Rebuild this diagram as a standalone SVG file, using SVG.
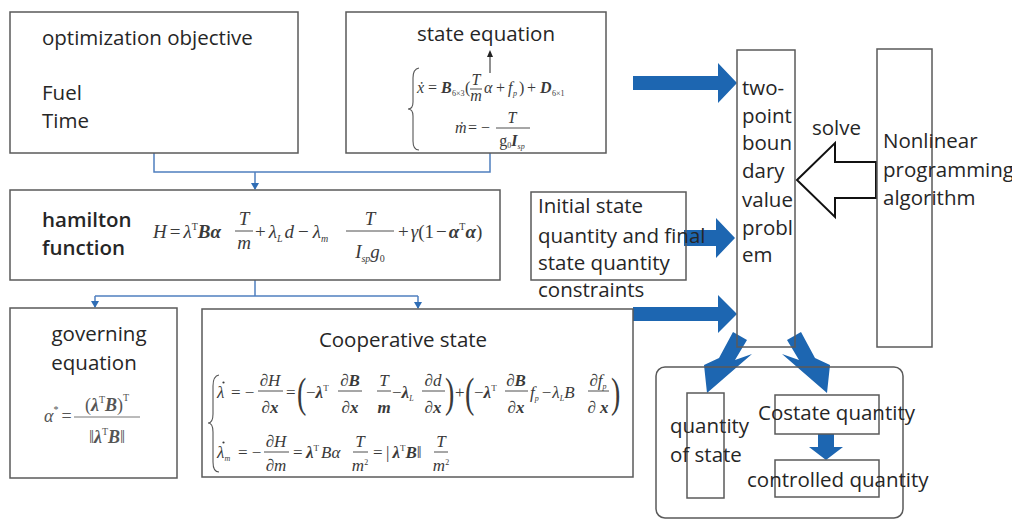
<svg xmlns="http://www.w3.org/2000/svg" width="1012" height="520" viewBox="0 0 1012 520">
<style>
.box{fill:none;stroke:#5a5a5a;stroke-width:1.5}
.t{font-family:"Open Sans","Noto Sans",sans-serif;font-size:20.5px;fill:#262626}
.m{font-family:"Liberation Serif","Times New Roman",serif;font-style:italic;font-size:17px;fill:#3a3a3a}
.u{font-style:normal}
.b{font-weight:bold}
.bar{stroke:#3a3a3a;stroke-width:0.9}
.conn{stroke:#4f7fbf;stroke-width:1.5;fill:none}
.big{fill:#1d66b1}
.brace{fill:none;stroke:#555;stroke-width:1.1}
.dot{fill:#3a3a3a}
</style>
<defs>
<marker id="dn" markerWidth="8" markerHeight="8" refX="4" refY="7" orient="0" markerUnits="userSpaceOnUse" viewBox="0 0 8 8">
<path d="M0,1 L8,1 L4,8 Z" fill="#2f6db5"/>
</marker>
</defs>

<g id="connectors">
<path class="conn" d="M154,153 V172 H490 V153"/>
<path class="conn" d="M255,172 V189" marker-end="url(#dn)"/>
<path class="conn" d="M255,280 V296"/>
<path class="conn" d="M95,296 H418"/>
<path class="conn" d="M95,296 V307" marker-end="url(#dn)"/>
<path class="conn" d="M418,296 V308" marker-end="url(#dn)"/>
<polygon class="big" points="633,76 718,76 718,63 737,83 718,103 718,90 633,90"/>
<polygon class="big" points="684,230 716,230 716,218 735,238 716,258 716,246 684,246"/>
<polygon class="big" points="633,307 718,307 718,295 737,314 718,333 718,321 633,321"/>
<polygon class="big" points="733,332 747,340 735,360 752,354 707,393 704,365 719,358"/>
<polygon class="big" points="801,332 787,340 799,360 782,354 827,393 830,365 815,358"/>
<polygon class="big" points="818,434 834,434 834,447 843,447 826,460 809,447 818,447"/>
<polygon points="797,180 835,143 835,162 876,162 876,198 835,198 835,217" fill="#fff" stroke="#111" stroke-width="2"/>
<text class="t" x="812" y="135">solve</text>
</g>

<g id="objective">
<rect class="box" x="10" y="12" width="288" height="141"/>
<text class="t" x="42" y="45" font-size="21">optimization objective</text>
<text class="t" x="42" y="100" font-size="21">Fuel</text>
<text class="t" x="42" y="128" font-size="21">Time</text>
</g>

<g id="state-equation">
<rect class="box" x="346" y="12" width="260" height="141"/>
<text class="t" x="486" y="41" text-anchor="middle" font-size="21">state equation</text>
<line x1="490" y1="73" x2="490" y2="56" stroke="#222" stroke-width="1"/>
<polygon points="487,57 493,57 490,50" fill="#222"/>
<path class="brace" d="M419,68 Q413,69 413,78 L413,102 Q413,109 408,109 Q413,109 413,116 L413,141 Q413,150 419,150"/>
<g class="m" style="font-size:16px">
<text x="417" y="93">ẋ</text>
<text x="428" y="93" class="u">=</text>
<text x="441" y="93" class="b">B</text>
<text x="452" y="96" class="u" font-size="8">6×3</text>
<text x="465" y="93" class="u">(</text>
<text x="476" y="85" text-anchor="middle">T</text>
<line class="bar" x1="470" y1="89" x2="482" y2="89"/>
<text x="476" y="101" text-anchor="middle">m</text>
<text x="484" y="93">α</text>
<text x="496" y="93" class="u">+</text>
<text x="508" y="93">f</text>
<text x="513" y="96" font-size="8">p</text>
<text x="519" y="93" class="u">)</text>
<text x="527" y="93" class="u">+</text>
<text x="540" y="93" class="b">D</text>
<text x="552" y="96" class="u" font-size="8">6×1</text>
<text x="455" y="133">ṁ</text>
<text x="468" y="133" class="u">=</text>
<text x="481" y="133" class="u">−</text>
<text x="512" y="123" text-anchor="middle">T</text>
<line class="bar" x1="496" y1="128" x2="530" y2="128"/>
<text x="512" y="146" text-anchor="middle"><tspan class="u">g</tspan><tspan class="u" font-size="8" dy="2">0</tspan><tspan class="b" dy="-2">I</tspan><tspan font-size="8" dy="3">sp</tspan></text>
</g>
</g>

<g id="hamilton">
<rect class="box" x="10" y="190" width="490" height="90"/>
<text class="t" x="42" y="227" font-size="19" font-weight="600">hamilton</text>
<text class="t" x="42" y="255" font-size="19" font-weight="600">function</text>
<g class="m" style="font-size:19px">
<text x="153" y="238">H<tspan class="u" dx="3">=</tspan><tspan dx="3">λ</tspan><tspan class="u" font-size="10" dy="-8">T</tspan><tspan class="b" dy="8">Bα</tspan></text>
<text x="244" y="225" text-anchor="middle">T</text>
<line class="bar" x1="235" y1="231" x2="253" y2="231"/>
<text x="244" y="249" text-anchor="middle">m</text>
<text x="255" y="238"><tspan class="u">+</tspan><tspan dx="3">λ</tspan><tspan font-size="10" dy="4">L</tspan><tspan dy="-4" dx="2">d</tspan><tspan class="u" dx="4">−</tspan><tspan dx="4">λ</tspan><tspan font-size="10" dy="4">m</tspan></text>
<text x="370" y="225" text-anchor="middle">T</text>
<line class="bar" x1="346" y1="231" x2="394" y2="231"/>
<text x="370" y="258" text-anchor="middle">I<tspan font-size="10" dy="4">sp</tspan><tspan dy="-4">g</tspan><tspan class="u" font-size="10" dy="4">0</tspan></text>
<text x="398" y="238"><tspan class="u">+</tspan><tspan dx="2">γ</tspan><tspan class="u">(1</tspan><tspan class="u" dx="2">−</tspan><tspan class="b" dx="2">α</tspan><tspan class="u" font-size="10" dy="-8">T</tspan><tspan class="b" dy="8">α</tspan><tspan class="u">)</tspan></text>
</g>
</g>

<g id="governing">
<rect class="box" x="10" y="308" width="167" height="170"/>
<text class="t" x="99" y="341" text-anchor="middle" font-size="21">governing</text>
<text class="t" x="94" y="370" text-anchor="middle" font-size="21">equation</text>
<g class="m" style="fill:#555;font-size:18px">
<text x="44" y="422">α<tspan class="u" font-size="10" dy="-9">*</tspan><tspan class="u" dy="9" dx="3">=</tspan></text>
<text x="107" y="411" text-anchor="middle"><tspan class="u">(</tspan><tspan class="b">λ</tspan><tspan class="u" font-size="10" dy="-8">T</tspan><tspan class="b" dy="8">B</tspan><tspan class="u">)</tspan><tspan class="u" font-size="10" dy="-10">T</tspan></text>
<line class="bar" x1="74" y1="417" x2="140" y2="417" style="stroke:#666"/>
<text x="107" y="443" text-anchor="middle"><tspan class="u">‖</tspan><tspan class="b">λ</tspan><tspan class="u" font-size="10" dy="-8">T</tspan><tspan class="b" dy="8">B</tspan><tspan class="u">‖</tspan></text>
</g>
</g>

<g id="cooperative">
<rect class="box" x="202" y="309" width="431" height="168"/>
<text class="t" x="403" y="347" text-anchor="middle" font-size="22">Cooperative state</text>
<path class="brace" d="M219,375 Q213,376 213,386 L213,414 Q213,423 208,423 Q213,423 213,432 L213,462 Q213,472 219,472"/>
<circle class="dot" cx="223.5" cy="382.5" r="1.1"/>
<circle class="dot" cx="223.5" cy="442.5" r="1.1"/>
<g class="m">
<text x="217" y="398">λ</text>
<text x="231" y="398" class="u">= −</text>
<text x="270" y="386" text-anchor="middle"><tspan class="u">∂</tspan>H</text>
<line class="bar" x1="258" y1="391" x2="283" y2="391"/>
<text x="270" y="413" text-anchor="middle"><tspan class="u">∂</tspan><tspan class="b">x</tspan></text>
<text x="286" y="398" class="u">=</text>
<text class="u" font-size="28" transform="translate(297,407) scale(1,1.5)">(</text>
<text x="306" y="398"><tspan class="u">−</tspan><tspan class="b">λ</tspan><tspan class="u" font-size="9" dy="-7">T</tspan></text>
<text x="350" y="386" text-anchor="middle"><tspan class="u">∂</tspan><tspan class="b">B</tspan></text>
<line class="bar" x1="338" y1="391" x2="362" y2="391"/>
<text x="350" y="413" text-anchor="middle"><tspan class="u">∂</tspan><tspan class="b">x</tspan></text>
<text x="384" y="386" text-anchor="middle">T</text>
<line class="bar" x1="377" y1="391" x2="391" y2="391"/>
<text x="384" y="413" text-anchor="middle" class="b">m</text>
<text x="392" y="398"><tspan class="u">−</tspan><tspan class="b">λ</tspan><tspan font-size="8" dy="3">L</tspan></text>
<text x="433" y="386" text-anchor="middle"><tspan class="u">∂</tspan>d</text>
<line class="bar" x1="422" y1="391" x2="445" y2="391"/>
<text x="433" y="413" text-anchor="middle"><tspan class="u">∂</tspan><tspan class="b">x</tspan></text>
<text class="u" font-size="28" transform="translate(445,407) scale(1,1.5)">)</text>
<text x="455" y="398" class="u">+</text>
<text class="u" font-size="28" transform="translate(465,407) scale(1,1.5)">(</text>
<text x="474" y="398"><tspan class="u">−</tspan><tspan class="b">λ</tspan><tspan class="u" font-size="9" dy="-7">T</tspan></text>
<text x="516" y="386" text-anchor="middle"><tspan class="u">∂</tspan><tspan class="b">B</tspan></text>
<line class="bar" x1="505" y1="391" x2="528" y2="391"/>
<text x="516" y="413" text-anchor="middle"><tspan class="u">∂</tspan><tspan class="b">x</tspan></text>
<text x="530" y="398">f<tspan font-size="8" dy="3">p</tspan><tspan class="u" dy="-3" dx="3">−</tspan><tspan dx="1">λ</tspan><tspan font-size="8" dy="3">L</tspan><tspan dy="-3">B</tspan></text>
<text x="598" y="386" text-anchor="middle"><tspan class="u">∂</tspan>f<tspan font-size="8" dy="3">p</tspan></text>
<line class="bar" x1="588" y1="391" x2="609" y2="391"/>
<text x="598" y="413" text-anchor="middle"><tspan class="u">∂</tspan> <tspan class="b">x</tspan></text>
<text class="u" font-size="28" transform="translate(611,407) scale(1,1.5)">)</text>

<text x="217" y="458">λ<tspan font-size="8" dy="3">m</tspan></text>
<text x="238" y="458" class="u">= −</text>
<text x="276" y="447" text-anchor="middle"><tspan class="u">∂</tspan>H</text>
<line class="bar" x1="264" y1="452" x2="289" y2="452"/>
<text x="276" y="471" text-anchor="middle"><tspan class="u">∂</tspan>m</text>
<text x="293" y="458" class="u">=</text>
<text x="306" y="458"><tspan class="b">λ</tspan><tspan class="u" font-size="9" dy="-7">T</tspan><tspan dy="7" dx="2">Bα</tspan></text>
<text x="360" y="447" text-anchor="middle">T</text>
<line class="bar" x1="353" y1="452" x2="368" y2="452"/>
<text x="360" y="471" text-anchor="middle">m<tspan class="u" font-size="8" dy="-6">2</tspan></text>
<text x="373" y="458" class="u">=</text>
<text x="386" y="458"><tspan class="u">|</tspan><tspan class="b" dx="3">λ</tspan><tspan class="u" font-size="9" dy="-7">T</tspan><tspan class="b" dy="7">B</tspan><tspan class="u">‖</tspan></text>
<text x="441" y="447" text-anchor="middle">T</text>
<line class="bar" x1="434" y1="452" x2="448" y2="452"/>
<text x="441" y="471" text-anchor="middle">m<tspan class="u" font-size="8" dy="-6">2</tspan></text>
</g>
</g>

<g id="initial-state">
<rect class="box" x="531" y="192" width="155" height="88"/>
<text class="t" font-size="19.5" x="538" y="213">Initial state</text>
<text class="t" font-size="19.5" x="538" y="243">quantity and final</text>
<text class="t" font-size="19.5" x="538" y="270">state quantity</text>
<text class="t" font-size="19.5" x="538" y="297">constraints</text>
</g>

<g id="two-point">
<rect class="box" x="737" y="50" width="58" height="297"/>
<text class="t" x="742" y="95">two-</text>
<text class="t" x="742" y="123">point</text>
<text class="t" x="742" y="150">boun</text>
<text class="t" x="742" y="178">dary</text>
<text class="t" x="742" y="207">value</text>
<text class="t" x="742" y="235">probl</text>
<text class="t" x="742" y="262">em</text>
</g>

<g id="nonlinear">
<rect class="box" x="877" y="49" width="55" height="298"/>
<text class="t" x="883" y="148">Nonlinear</text>
<text class="t" x="883" y="177">programming</text>
<text class="t" x="883" y="205">algorithm</text>
</g>

<g id="results">
<rect class="box" x="656" y="367" width="247" height="151" rx="9"/>
</g>
<g id="quantity-of-state">
<rect class="box" x="687" y="393" width="37" height="105"/>
<text class="t" x="670" y="433">quantity</text>
<text class="t" x="670" y="462">of state</text>
</g>
<g id="costate">
<rect class="box" x="775" y="395" width="104" height="39"/>
<text class="t" x="758" y="420">Costate quantity</text>
</g>
<g id="controlled">
<rect class="box" x="775" y="460" width="104" height="37"/>
<text class="t" x="747" y="487" font-size="21">controlled quantity</text>
</g>
</svg>
